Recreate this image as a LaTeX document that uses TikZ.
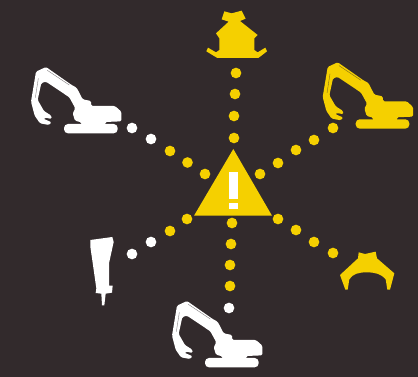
\documentclass[tikz,border=0pt]{standalone}
\definecolor{bgc}{RGB}{50,42,44}
\definecolor{ylw}{RGB}{245,208,0}
\tikzset{
  x=0.75pt,y=-0.75pt,
  dot/.style={circle,inner sep=0pt,minimum size=8pt,fill=#1},
  pics/digger/.style={code={
    \begin{scope}[x=0.25pt,y=-0.25pt]
    \fill[#1,rounded corners=1pt] (78,36)--(155,90)--(170,98)--(188,133)--(213,138)--(214,153)--(285,153)--(304,170)--(304,199)--(256,201)--(256,212)--(184,212)--(184,202)--(165,197)--(158,175)--(166,160)--(148,127)--(78,80)--(64,84)--(53,135)--(72,168)--(94,182)--(95,192)--(76,188)--(70,191)--(95,202)--(87,210)--(60,205)--(44,182)--(33,140)--(48,50)--cycle;
    \fill[#1,rounded corners=3pt] (132,207) rectangle (293,235);
    \draw[bgc,opacity=.6,line width=0.3pt] (82,46)--(148,90) (46,128)--(55,70);
    \end{scope}
  }}
}
\begin{document}
\begin{tikzpicture}
\fill[bgc] (0,0) rectangle (418,377);
\useasboundingbox (0,0) rectangle (418,377);
% central triangle
\fill[ylw] (233.3,149)--(272,215.7)--(194,215.7)--cycle;
\fill[white] (229.3,171.7) rectangle (237.7,199);
\fill[white] (229.3,203) rectangle (237.7,209);
% yellow dots
\foreach \p in {(236,73),(235,94),(234,116),(234,138),
  (260,174),(278,163),(296,150),(314,140),(333,128),
  (278,219),(296,230),(314,242),(333,253),
  (232,223),(231,244),(230,265),(230,286),
  (187,219),(170,231),
  (205,174),(187.5,162.5),(170,151)}
  \node[dot=ylw] at \p {};
% white dots
\foreach \p in {(229,308),(151,242),(132,254),(151,139),(132,128)}
  \node[dot=white] at \p {};
% excavators
\pic at (20,55) {digger=white};
\pic at (161,289) {digger=white};
\pic at (311.7,50.3) {digger=ylw};
% house
\begin{scope}[shift={(190,0)},x=0.25pt,y=-0.25pt]
\fill[ylw] (103,34)--(125,40)--(155,32)--(167,56)--(150,63)--(203,105)--(193,115)--(193,150)--(203,157)--(226,143)--(231,154)--(205,174)--(82,174)--(49,154)--(54,143)--(78,157)--(88,150)--(88,115)--(78,100)--(116,65)--(95,58)--cycle;
\end{scope}
% claw
\begin{scope}[shift={(330,240)},x=0.25pt,y=-0.25pt]
\fill[ylw] (86,37)--(105,42)--(137,35)--(141,55)--(193,100)--(180,149)--(172,149)--(167,118) .. controls (155,102) and (135,97) .. (110,97) .. controls (85,97) and (68,102) .. (58,118)--(53,149)--(46,149)--(30,105)--(84,55)--cycle;
\end{scope}
% hammer
\begin{scope}[shift={(80,230)},x=0.25pt,y=-0.25pt]
\fill[white] (31,30)--(97,21)--(101,36)--(87,100)--(87,167)--(98,167)--(96,188)--(77,191)--(73,226)--(66,226)--(64,191)--(47,189)--(49,175)--(31,50)--cycle;
\end{scope}
\end{tikzpicture}
\end{document}
